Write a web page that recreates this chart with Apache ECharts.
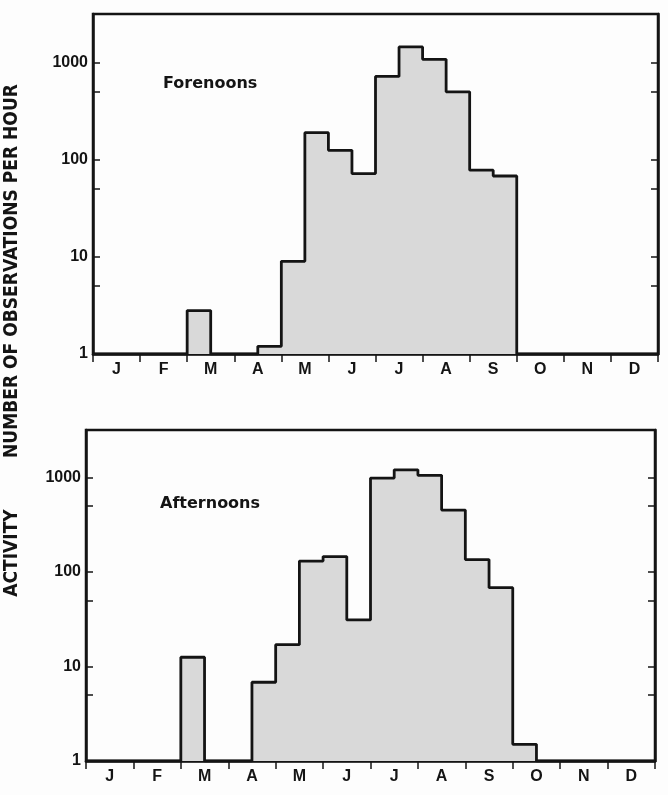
<!DOCTYPE html>
<html>
<head>
<meta charset="utf-8">
<script src="https://cdn.jsdelivr.net/npm/echarts@6/dist/echarts.min.js"></script>
<style>
  html, body { margin: 0; padding: 0; background: #fdfdfd; }
  #chart { width: 668px; height: 795px; }
</style>
</head>
<body>
<div id="chart"></div>
<script>
// Month labels (each month = two half-month bins)
const months = ['J', 'F', 'M', 'A', 'M', 'J', 'J', 'A', 'S', 'O', 'N', 'D'];
// Activity per half-month bin (Jan 1-15, Jan 16-31, ... Dec 16-31); 1 = baseline (no activity)
const forenoons = [1, 1, 1, 1, 2.8, 1, 1, 1.2, 9, 190, 125, 72, 720, 1450, 1080, 500, 78, 68, 1, 1, 1, 1, 1, 1];
const afternoons = [1, 1, 1, 1, 12.5, 1, 1, 6.8, 17, 130, 145, 31, 980, 1200, 1050, 450, 135, 68, 1.5, 1, 1, 1, 1, 1];
// Axis tick values
const yLabelValues = [1, 10, 100, 1000];
const yTickValues = [1, 5, 10, 50, 100, 500, 1000];
const yMin = 1;
const yMax = 3162;

function stepData(vals) {
  const pts = vals.map((v, i) => [i, v]);
  pts.push([vals.length, vals[vals.length - 1]]);
  return pts;
}

const FONT = 'Liberation Sans';
const INK = '#141414';

const grids = [
  { left: 93, right: 10, top: 14, height: 340 },
  { left: 86, right: 13, top: 430, height: 331 }
];

const xAxes = [];
const yAxes = [];
const series = [];
[forenoons, afternoons].forEach((vals, g) => {
  xAxes.push({
    type: 'category', gridIndex: g, data: months, boundaryGap: true,
    axisLine: { show: true, lineStyle: { color: INK, width: 2.5 } },
    axisTick: { show: true, inside: false, length: 8, lineStyle: { color: INK, width: 1.5 } },
    axisLabel: { color: INK, fontFamily: FONT, fontWeight: 'bold', fontSize: 16, margin: 8 },
    splitLine: { show: false }
  });
  xAxes.push({
    type: 'value', gridIndex: g, min: 0, max: vals.length, show: false
  });
  yAxes.push({
    type: 'log', gridIndex: g, logBase: 10, min: yMin, max: yMax,
    axisLine: { show: true, lineStyle: { color: INK, width: 2.5 } },
    axisTick: { show: true, inside: true, length: 7, lineStyle: { color: INK, width: 1.5 }, customValues: yTickValues },
    axisLabel: { color: INK, fontFamily: FONT, fontWeight: 'bold', fontSize: 16, margin: 5,
      customValues: yLabelValues, formatter: v => String(Math.round(v)) },
    splitLine: { show: false }
  });
  yAxes.push({
    type: 'log', gridIndex: g, logBase: 10, min: yMin, max: yMax, position: 'right',
    axisLine: { show: true, lineStyle: { color: INK, width: 2.5 } },
    axisTick: { show: true, inside: true, length: 7, lineStyle: { color: INK, width: 1.5 }, customValues: yTickValues },
    axisLabel: { show: false },
    splitLine: { show: false }
  });
  series.push({
    type: 'line', xAxisIndex: g * 2 + 1, yAxisIndex: g * 2,
    data: stepData(vals), step: 'end', symbol: 'none', silent: true,
    lineStyle: { color: INK, width: 2.8 },
    areaStyle: { color: '#d9d9d9', opacity: 1, origin: 'start' },
    z: 1
  });
});

const chart = echarts.init(document.getElementById('chart'), null, { renderer: 'canvas' });
chart.setOption({
  backgroundColor: '#fdfdfd',
  animation: false,
  grid: grids.map(gr => Object.assign({ show: true, borderColor: INK, borderWidth: 2.5, backgroundColor: 'transparent' }, gr)),
  xAxis: xAxes,
  yAxis: yAxes,
  series: series,
  graphic: [
    { type: 'text', left: 163, top: 76, style: { text: 'Forenoons', fill: INK, font: 'bold 16px "DejaVu Sans"' } },
    { type: 'text', left: 160, top: 496, style: { text: 'Afternoons', fill: INK, font: 'bold 16px "DejaVu Sans"' } },
    { type: 'text', x: 12, y: 271, rotation: Math.PI / 2,
      style: { text: 'NUMBER OF OBSERVATIONS PER HOUR', fill: INK, font: 'bold 19px "DejaVu Sans Condensed"', align: 'center', verticalAlign: 'middle' } },
    { type: 'text', x: 12, y: 553, rotation: Math.PI / 2,
      style: { text: 'ACTIVITY', fill: INK, font: 'bold 19px "DejaVu Sans Condensed"', align: 'center', verticalAlign: 'middle' } }
  ]
});
</script>
</body>
</html>
